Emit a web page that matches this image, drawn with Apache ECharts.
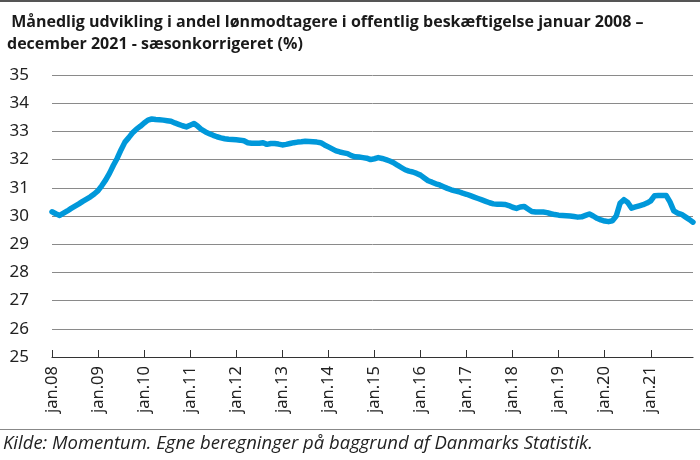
<!DOCTYPE html>
<html>
<head>
<meta charset="utf-8">
<script src="https://cdn.jsdelivr.net/npm/echarts@6/dist/echarts.min.js"></script>
<style>
html,body{margin:0;padding:0;background:#fff;}
#c{width:700px;height:460px;}
</style>
</head>
<body>
<div id="c"></div>
<script>
// Tick / category labels
const monthNames = ['jan','feb','mar','apr','maj','jun','jul','aug','sep','okt','nov','dec'];
const years = ['08','09','10','11','12','13','14','15','16','17','18','19','20','21'];
const categories = [];
years.forEach(y => monthNames.forEach(m => categories.push(m + '.' + y)));

// Monthly values (%), Jan 2008 - Dec 2021
const v2008 = [30.15,30.08,30.02,30.10,30.18,30.27,30.35,30.43,30.52,30.60,30.68,30.78];
const v2009 = [30.90,31.08,31.28,31.52,31.80,32.05,32.35,32.62,32.78,32.95,33.08,33.18];
const v2010 = [33.30,33.40,33.44,33.42,33.41,33.40,33.38,33.36,33.30,33.25,33.20,33.16];
const v2011 = [33.22,33.28,33.18,33.06,32.98,32.92,32.86,32.81,32.77,32.74,32.72,32.71];
const v2012 = [32.70,32.69,32.67,32.60,32.58,32.58,32.58,32.60,32.54,32.57,32.57,32.55];
const v2013 = [32.52,32.54,32.57,32.60,32.62,32.63,32.65,32.64,32.63,32.62,32.60,32.52];
const v2014 = [32.45,32.38,32.31,32.27,32.24,32.21,32.14,32.10,32.09,32.07,32.05,32.00];
const v2015 = [32.03,32.07,32.04,32.00,31.95,31.89,31.80,31.72,31.64,31.59,31.56,31.51];
const v2016 = [31.45,31.35,31.25,31.20,31.14,31.10,31.04,30.98,30.93,30.89,30.86,30.81];
const v2017 = [30.77,30.72,30.67,30.62,30.57,30.52,30.47,30.43,30.42,30.42,30.41,30.37];
const v2018 = [30.31,30.27,30.32,30.34,30.25,30.16,30.14,30.14,30.14,30.12,30.08,30.05];
const v2019 = [30.03,30.02,30.01,30.00,29.98,29.96,29.97,30.02,30.07,30.00,29.92,29.86];
const v2020 = [29.82,29.80,29.83,30.00,30.45,30.58,30.48,30.28,30.32,30.36,30.40,30.46];
const v2021 = [30.54,30.72,30.73,30.73,30.73,30.50,30.18,30.10,30.06,29.97,29.88,29.78];
const values = [].concat(v2008,v2009,v2010,v2011,v2012,v2013,v2014,v2015,v2016,v2017,v2018,v2019,v2020,v2021);

const titleLines = ' Månedlig udvikling i andel lønmodtagere i offentlig beskæftigelse januar 2008 –\ndecember 2021 - sæsonkorrigeret (%)';
const sourceText = 'Kilde: Momentum. Egne beregninger på baggrund af Danmarks Statistik.';

const chart = echarts.init(document.getElementById('c'), null, {renderer:'canvas'});
chart.setOption({
  animation: false,
  backgroundColor: '#fff',
  title: {
    text: titleLines,
    left: 2, top: 6,
    textStyle: {fontFamily: 'Open Sans', fontWeight: 'bold', fontSize: 16, color: '#1a1a1a', lineHeight: 22}
  },
  graphic: [
    {type:'rect', left:0, top:0, shape:{width:700, height:2}, style:{fill:'#555'}},
    {type:'rect', left:0, top:429, shape:{width:700, height:1}, style:{fill:'#888'}},
    {type:'text', left:3, top:434, style:{text: sourceText, font:'italic 18.5px "Open Sans"', fill:'#222'}}
  ],
  grid: {left: 52, right: 7, top: 75, bottom: 103, containLabel: false},
  xAxis: {
    type: 'category',
    data: categories,
    boundaryGap: false,
    axisLine: {lineStyle: {color: '#333', width: 1.2}},
    axisTick: {inside: true, length: 7, interval: 11, lineStyle: {color: '#333'}},
    axisLabel: {interval: 11, rotate: 90, fontSize: 16.5, color: '#222', fontFamily: 'Noto Sans', margin: 9},
    splitLine: {show: false}
  },
  yAxis: {
    type: 'value',
    min: 25, max: 35, interval: 1,
    axisLine: {show: false},
    axisTick: {show: false},
    axisLabel: {fontSize: 17, color: '#222', fontFamily: 'Noto Sans', margin: 23},
    splitLine: {lineStyle: {color: '#8a8a8a', width: 1}}
  },
  series: [{
    type: 'line',
    data: values,
    showSymbol: false,
    lineStyle: {color: '#0098da', width: 5.5, join: 'round', cap: 'round'},
    itemStyle: {color: '#0098da'}
  }]
});
</script>
</body>
</html>
